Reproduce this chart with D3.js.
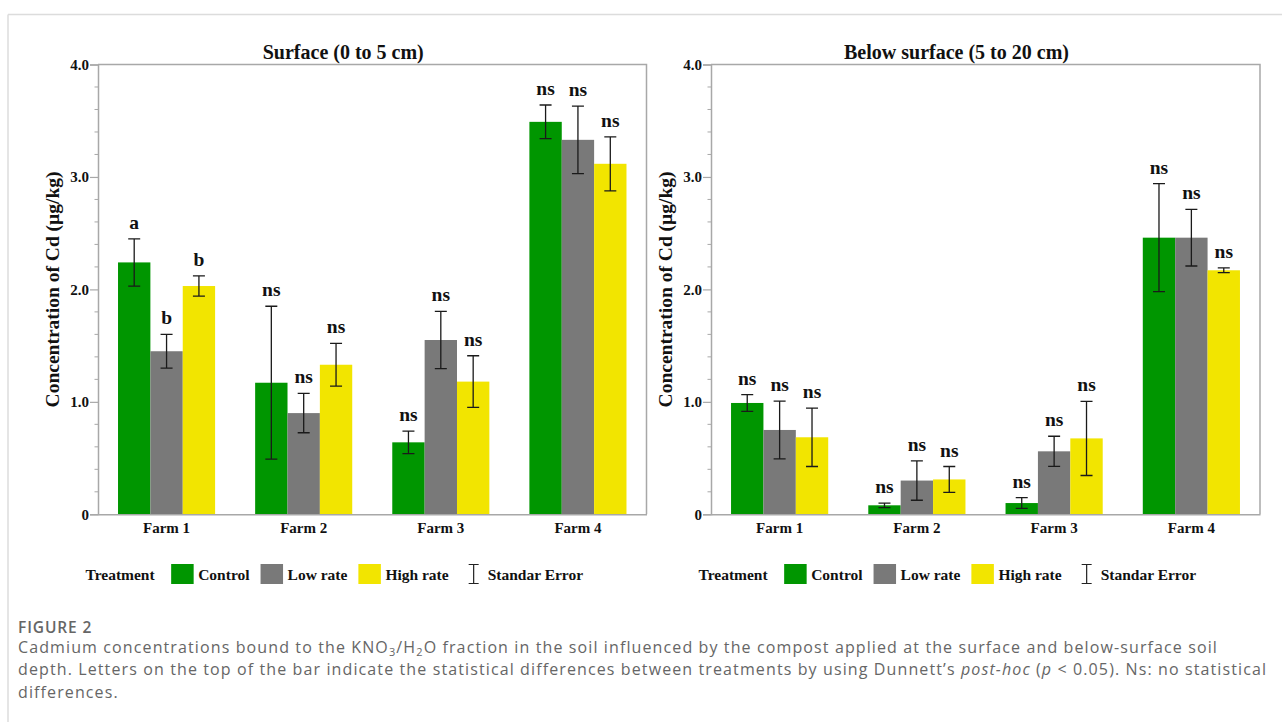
<!DOCTYPE html>
<html>
<head>
<meta charset="utf-8">
<script src="https://cdn.jsdelivr.net/npm/d3@7"></script>
<style>
  html, body { margin: 0; padding: 0; background: #fff; }
  svg { display: block; }
  .serif { font-family: "Liberation Serif", "Times New Roman", serif; font-weight: bold; fill: #111; }
  .caption { font-family: "Open Sans", "Noto Sans", sans-serif; fill: #666; }
</style>
</head>
<body>
<svg id="fig" width="1282" height="722"></svg>
<script>
// Cd concentration (µg/kg) in the KNO3/H2O fraction, mean and standard error per farm and treatment
const farms = ["Farm 1", "Farm 2", "Farm 3", "Farm 4"];
const treatments = ["Control", "Low rate", "High rate"];

const surfaceMean = [[2.24, 1.45, 2.03], [1.17, 0.90, 1.33], [0.64, 1.55, 1.18], [3.49, 3.33, 3.117]];
const surfaceSE   = [[0.21, 0.15, 0.09], [0.68, 0.175, 0.19], [0.10, 0.255, 0.23], [0.15, 0.30, 0.24]];
const surfaceSig  = [["a", "b", "b"], ["ns", "ns", "ns"], ["ns", "ns", "ns"], ["ns", "ns", "ns"]];

const belowMean = [[0.99, 0.75, 0.685], [0.08, 0.30, 0.31], [0.10, 0.56, 0.675], [2.46, 2.46, 2.17]];
const belowSE   = [[0.075, 0.257, 0.26], [0.02, 0.175, 0.115], [0.048, 0.134, 0.33], [0.48, 0.252, 0.021]];
const belowSig  = [["ns", "ns", "ns"], ["ns", "ns", "ns"], ["ns", "ns", "ns"], ["ns", "ns", "ns"]];

const yMajorTicks = [0, 1, 2, 3, 4];
const yTickLabels = ["0", "1.0", "2.0", "3.0", "4.0"];
const yMax = 4;

const colors = { "Control": "#009600", "Low rate": "#797979", "High rate": "#f2e500" };
const axisGray = "#a8a8a8";

const svg = d3.select("#fig");
svg.append("rect").attr("width", 1282).attr("height", 722).attr("fill", "#fff");

// page frame lines
svg.append("line").attr("x1", 8).attr("x2", 1282).attr("y1", 14.5).attr("y2", 14.5)
  .attr("stroke", "#dcdcdc").attr("stroke-width", 1.5);
svg.append("line").attr("x1", 8).attr("x2", 8).attr("y1", 14.5).attr("y2", 722)
  .attr("stroke", "#dcdcdc").attr("stroke-width", 1.5);

function drawPanel(opts) {
  const { x0, x1, title, means, ses, sigs } = opts;
  const top = 64.5, bottom = 514.3;
  const g = svg.append("g");

  const y = d3.scaleLinear().domain([0, yMax]).range([bottom, top]);
  const x = d3.scaleBand().domain(farms).range([x0, x1]).padding(0);
  const bw = x.bandwidth();
  const xi = d3.scaleBand().domain(treatments).range([bw * 0.146, bw * 0.854]).padding(0);

  // plot frame (top and right)
  g.append("path")
    .attr("d", `M${x0},${top}H${x1}V${bottom}`)
    .attr("fill", "none").attr("stroke", axisGray).attr("stroke-width", 1.5);

  // minor y ticks every 0.2
  const minor = d3.range(0, yMax + 0.001, 0.2).filter(v => Math.abs(v - Math.round(v)) > 1e-6);
  g.selectAll(".minor").data(minor).join("line")
    .attr("x1", x0 - 3.5).attr("x2", x0)
    .attr("y1", d => y(d)).attr("y2", d => y(d))
    .attr("stroke", axisGray).attr("stroke-width", 1);

  // bars
  farms.forEach((farm, fi) => {
    const fg = g.append("g").attr("transform", `translate(${x(farm)},0)`);
    treatments.forEach((t, ti) => {
      const m = means[fi][ti];
      fg.append("rect")
        .attr("x", xi(t)).attr("width", xi.bandwidth())
        .attr("y", y(m)).attr("height", y(0) - y(m))
        .attr("fill", colors[t]);
    });
  });

  // error bars and significance letters
  farms.forEach((farm, fi) => {
    const fg = g.append("g").attr("transform", `translate(${x(farm)},0)`);
    treatments.forEach((t, ti) => {
      const m = means[fi][ti], s = ses[fi][ti];
      const cx = xi(t) + xi.bandwidth() / 2;
      const capW = 12;
      fg.append("path")
        .attr("d", `M${cx},${y(m + s)}V${y(m - s)}M${cx - capW / 2},${y(m + s)}h${capW}M${cx - capW / 2},${y(m - s)}h${capW}`)
        .attr("stroke", "#1a1a1a").attr("stroke-width", 1.3).attr("fill", "none");
      fg.append("text").attr("class", "serif")
        .attr("x", cx).attr("y", y(m + s) - 10)
        .attr("text-anchor", "middle").attr("font-size", 19.5)
        .text(sigs[fi][ti]);
    });
  });

  // y axis
  const yAxis = d3.axisLeft(y).tickValues(yMajorTicks)
    .tickFormat((d, i) => yTickLabels[i]).tickSize(8).tickPadding(1);
  const ya = g.append("g").attr("transform", `translate(${x0},0)`).call(yAxis);
  ya.select(".domain").attr("stroke", axisGray).attr("stroke-width", 1.5);
  ya.selectAll(".tick line").attr("stroke", axisGray).attr("stroke-width", 1.2);
  ya.selectAll(".tick text").attr("class", "serif").attr("font-size", 15).attr("fill", "#111");

  // x axis
  const xAxis = d3.axisBottom(x).tickSize(0).tickPadding(8);
  const xa = g.append("g").attr("transform", `translate(0,${bottom})`).call(xAxis);
  xa.select(".domain").attr("stroke", axisGray).attr("stroke-width", 1.5);
  xa.selectAll(".tick text").attr("class", "serif").attr("font-size", 15).attr("fill", "#111");

  // y axis title
  g.append("text").attr("class", "serif")
    .attr("transform", `translate(${x0 - 46},${(top + bottom) / 2}) rotate(-90)`)
    .attr("text-anchor", "middle").attr("dominant-baseline", "central")
    .attr("font-size", 19.5)
    .text("Concentration of Cd (µg/kg)");

  // panel title
  g.append("text").attr("class", "serif")
    .attr("x", (x0 - 58 + x1) / 2).attr("y", 59)
    .attr("text-anchor", "middle").attr("font-size", 20)
    .text(title);

  // legend
  const lg = g.append("g");
  let cx = x0 - 12.5;
  const ly = 574;
  const t0 = lg.append("text").attr("class", "serif").attr("x", cx).attr("y", ly + 6)
    .attr("font-size", 15.5).text("Treatment");
  cx += t0.node().getComputedTextLength() + 16.5;
  treatments.forEach((t, i) => {
    lg.append("rect").attr("x", cx).attr("y", ly - 10).attr("width", 22.5).attr("height", 20)
      .attr("fill", colors[t]);
    cx += 22.5 + 4.5;
    const tt = lg.append("text").attr("class", "serif").attr("x", cx).attr("y", ly + 6)
      .attr("font-size", 15.5).text(t);
    cx += tt.node().getComputedTextLength() + (i < 2 ? 11 : 20);
  });
  lg.append("path")
    .attr("d", `M${cx},${ly - 9.5}h10M${cx + 5},${ly - 9.5}V${ly + 9.5}M${cx},${ly + 9.5}h10`)
    .attr("stroke", "#222").attr("stroke-width", 1.2).attr("fill", "none");
  cx += 10 + 9;
  lg.append("text").attr("class", "serif").attr("x", cx).attr("y", ly + 6)
    .attr("font-size", 15.5).text("Standar Error");
}

drawPanel({ x0: 98, x1: 646.5, title: "Surface (0 to 5 cm)", means: surfaceMean, ses: surfaceSE, sigs: surfaceSig });
drawPanel({ x0: 711, x1: 1260, title: "Below surface (5 to 20 cm)", means: belowMean, ses: belowSE, sigs: belowSig });

// caption: open letter-spacing so the first line spans the text column
const capSize = 16;
const cap = svg.append("g").attr("class", "caption").attr("font-size", capSize);
const figLabel = cap.append("text").attr("x", 18).attr("y", 633)
  .attr("font-weight", 600).attr("font-size", 15.5).text("FIGURE 2");

const l1 = cap.append("text").attr("x", 18).attr("y", 652.5);
l1.append("tspan").text("Cadmium concentrations bound to the KNO");
l1.append("tspan").attr("font-size", 11).attr("dy", 3.5).text("3");
l1.append("tspan").attr("dy", -3.5).text("/H");
l1.append("tspan").attr("font-size", 11).attr("dy", 3.5).text("2");
l1.append("tspan").attr("dy", -3.5).text("O fraction in the soil influenced by the compost applied at the surface and below-surface soil");

const l2 = cap.append("text").attr("x", 18).attr("y", 675);
l2.append("tspan").text("depth. Letters on the top of the bar indicate the statistical differences between treatments by using Dunnett’s ");
l2.append("tspan").attr("font-style", "italic").text("post-hoc");
l2.append("tspan").text(" (");
l2.append("tspan").attr("font-style", "italic").text("p");
l2.append("tspan").text(" < 0.05). Ns: no statistical");

cap.append("text").attr("x", 18).attr("y", 697.5).text("differences.");

const natural = l1.node().getComputedTextLength();
const nChars = l1.text().length;
const spacing = Math.max(0, (1200 - natural) / nChars);
cap.selectAll("text").attr("letter-spacing", spacing);
figLabel.attr("letter-spacing", spacing * 0.8);
</script>
</body>
</html>
